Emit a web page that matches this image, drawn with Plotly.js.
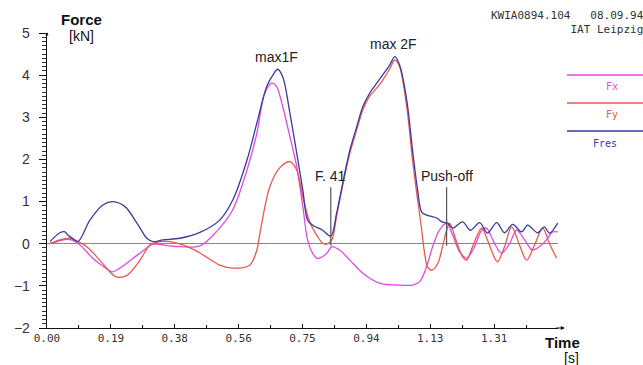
<!DOCTYPE html>
<html>
<head>
<meta charset="utf-8">
<script src="https://cdn.plot.ly/plotly-3.0.1.min.js"></script>
<style>html,body{margin:0;padding:0;background:#fff;}#chart{width:643px;height:365px;}</style>
</head>
<body>
<div id="chart"></div>
<script>
// ---- data (time in s, force in kN) ----
const timeFres = [0.009,0.038,0.053,0.062,0.076,0.091,0.126,0.164,0.194,0.229,0.264,0.293,0.311,0.340,0.390,0.449,0.507,0.545,0.587,0.616,0.645,0.663,0.677,0.692,0.713,0.733,0.751,0.765,0.780,0.809,0.833,0.850,0.868,0.889,0.909,0.927,0.947,0.968,0.985,1.006,1.021,1.035,1.056,1.073,1.088,1.100,1.114,1.144,1.161,1.176,1.191,1.220,1.243,1.270,1.293,1.320,1.343,1.367,1.393,1.411,1.440,1.460,1.475,1.499];
const fres     = [0.05,0.26,0.28,0.20,0.12,0.05,0.56,0.92,1.00,0.88,0.49,0.13,0.05,0.09,0.13,0.27,0.56,1.03,1.98,2.86,3.73,4.00,4.14,3.96,3.10,2.15,1.27,0.56,0.44,0.32,0.18,0.72,1.44,2.22,2.77,3.25,3.57,3.81,4.00,4.24,4.44,4.24,3.41,2.22,1.27,0.75,0.68,0.61,0.51,0.49,0.37,0.52,0.32,0.50,0.25,0.50,0.26,0.46,0.28,0.44,0.26,0.40,0.25,0.49];

const timeFx = [0.009,0.053,0.076,0.097,0.135,0.176,0.191,0.214,0.252,0.293,0.311,0.370,0.449,0.499,0.545,0.587,0.616,0.639,0.660,0.674,0.692,0.713,0.733,0.751,0.765,0.780,0.795,0.821,0.836,0.859,0.889,0.927,0.977,1.026,1.073,1.094,1.114,1.132,1.152,1.173,1.191,1.211,1.232,1.255,1.276,1.290,1.314,1.334,1.358,1.378,1.402,1.425,1.452,1.466,1.484,1.499];
const fx     = [0.00,0.10,0.08,-0.03,-0.35,-0.60,-0.67,-0.58,-0.35,-0.10,-0.01,-0.06,-0.05,0.30,0.80,1.75,2.62,3.57,3.81,3.73,3.25,2.54,1.83,0.88,0.09,-0.23,-0.35,-0.23,-0.07,-0.15,-0.39,-0.70,-0.94,-0.98,-0.98,-0.90,-0.55,-0.07,0.32,0.49,0.20,-0.19,-0.34,-0.07,0.32,0.37,0.00,-0.22,0.00,0.32,0.09,-0.15,-0.03,0.09,0.28,0.28];

const timeFy = [0.009,0.038,0.067,0.091,0.117,0.155,0.185,0.205,0.235,0.273,0.302,0.331,0.361,0.399,0.449,0.507,0.545,0.595,0.616,0.625,0.654,0.683,0.713,0.733,0.751,0.771,0.792,0.809,0.821,0.836,0.850,0.868,0.889,0.909,0.927,0.947,0.977,1.006,1.021,1.035,1.056,1.073,1.088,1.098,1.108,1.117,1.129,1.147,1.161,1.173,1.182,1.202,1.220,1.232,1.249,1.276,1.293,1.314,1.323,1.343,1.364,1.387,1.408,1.431,1.455,1.475,1.496];
const fy     = [0.00,0.09,0.13,0.05,-0.07,-0.39,-0.67,-0.79,-0.75,-0.39,-0.03,0.05,0.05,-0.03,-0.22,-0.51,-0.58,-0.51,-0.15,0.25,1.35,1.80,1.95,1.75,1.11,0.52,0.20,0.01,-0.01,0.09,0.65,1.38,2.15,2.70,3.17,3.50,3.78,4.15,4.36,4.20,3.25,1.98,1.03,0.45,-0.20,-0.55,-0.63,-0.47,-0.07,0.32,0.49,0.05,-0.31,-0.39,-0.07,0.37,0.09,-0.34,-0.43,-0.07,0.40,-0.03,-0.39,-0.03,0.37,0.00,-0.34];

const seriesNames = ['Fx','Fy','Fres'];
const seriesColors = ['#e04ce0','#e8584c','#3a3a9e'];

const tickVals = [0,0.1875,0.375,0.5625,0.75,0.9375,1.125,1.3125];
const tickText = ['0.00','0.19','0.38','0.56','0.75','0.94','1.13','1.31'];

// event markers
const markerNames = ['F. 41','Push-off'];
const markerTimes = [0.833,1.173];
const peakNames = ['max1F','max 2F'];
const peakTimes = [0.674,1.021];
const peakForces = [4.14,4.44];

// ---- traces ----
const traces = [
  {x: timeFx, y: fx, name: seriesNames[0]},
  {x: timeFy, y: fy, name: seriesNames[1]},
  {x: timeFres, y: fres, name: seriesNames[2]}
].map((t,i)=>Object.assign(t,{type:'scatter',mode:'lines',
  line:{color:seriesColors[i],width:1.3,shape:'spline',smoothing:0.9},hoverinfo:'skip'}));

// event marker vertical lines
markerTimes.forEach(t=>{
  traces.push({type:'scatter',mode:'lines',x:[t,t],y:[1.34,-0.05],
    line:{color:'#555',width:1.2},hoverinfo:'skip',showlegend:false});
});

const sansFont = 'Liberation Sans, Arial, sans-serif';
const monoFont = 'DejaVu Sans Mono, monospace';

const annotations = [];
markerNames.forEach((n,i)=>annotations.push({x:markerTimes[i],y:1.6,xref:'x',yref:'y',text:n,showarrow:false,
  font:{family:sansFont,size:14,color:'#222'},xanchor:'center',yanchor:'middle'}));
peakNames.forEach((n,i)=>annotations.push({x:peakTimes[i]+(i===0?0:-0.005),y:peakForces[i]+(i===0?0.3:0.3),xref:'x',yref:'y',text:n,showarrow:false,
  font:{family:sansFont,size:14,color:'#222'},xanchor:'center',yanchor:'middle'}));

// axis titles
annotations.push({xref:'paper',yref:'paper',x:0.068,y:1.045,text:'<b>Force</b>',showarrow:false,font:{family:sansFont,size:15,color:'#111'},xanchor:'center',yanchor:'middle'});
annotations.push({xref:'paper',yref:'paper',x:0.068,y:0.99,text:'[kN]',showarrow:false,font:{family:sansFont,size:14,color:'#111'},xanchor:'center',yanchor:'middle'});
annotations.push({xref:'paper',yref:'paper',x:1.008,y:-0.05,text:'<b>Time</b>',showarrow:false,font:{family:sansFont,size:15,color:'#111'},xanchor:'center',yanchor:'middle'});
annotations.push({xref:'paper',yref:'paper',x:1.027,y:-0.10,text:'[s]',showarrow:false,font:{family:sansFont,size:14,color:'#111'},xanchor:'center',yanchor:'middle'});

// header (two lines, right aligned)
annotations.push({xref:'paper',yref:'paper',x:1.172,y:1.035,text:'KWIA0894.104   08.09.94<br>IAT Leipzig',showarrow:false,align:'right',
  font:{family:monoFont,size:11,color:'#333'},xanchor:'right',yanchor:'middle'});

// custom legend
const legLineY = [0.8576,0.7627,0.6678];
const legTextY = [0.8203,0.7254,0.6271];
const legTextX = [1.1057,1.1057,1.092];
const shapes = [];
seriesNames.forEach((n,i)=>{
  shapes.push({type:'line',xref:'paper',yref:'paper',x0:1.0176,x1:1.17,y0:legLineY[i],y1:legLineY[i],line:{color:seriesColors[i],width:1.3}});
  annotations.push({xref:'paper',yref:'paper',x:legTextX[i],y:legTextY[i],text:n,showarrow:false,font:{family:monoFont,size:10,color:seriesColors[i]},xanchor:'center',yanchor:'middle'});
});

// axis arrows
annotations.push({xref:'x',yref:'y',axref:'x',ayref:'y',x:1.52,y:-2,ax:1.49,ay:-2,showarrow:true,arrowhead:2,arrowsize:0.8,arrowwidth:1,arrowcolor:'#111',text:''});
annotations.push({xref:'x',yref:'y',axref:'x',ayref:'y',x:0,y:5.02,ax:0,ay:4.9,showarrow:true,arrowhead:2,arrowsize:0.6,arrowwidth:1,arrowcolor:'#111',text:''});

const layout = {
  width:643,height:365,
  margin:{l:47,r:85,t:33,b:37},
  paper_bgcolor:'#fff',plot_bgcolor:'#fff',
  showlegend:false,
  xaxis:{range:[0,1.5],showgrid:false,zeroline:false,showline:true,linecolor:'#111',linewidth:1,
    tickmode:'array',tickvals:tickVals,ticktext:tickText,ticks:'inside',ticklen:4,tickcolor:'#111',
    minor:{tickmode:'linear',tick0:0,dtick:0.09375,ticks:'inside',ticklen:3,tickcolor:'#111'},
    tickfont:{family:monoFont,size:11,color:'#333'},fixedrange:true},
  yaxis:{range:[-2,5],showgrid:false,zeroline:true,zerolinecolor:'#888',zerolinewidth:1,
    showline:true,linecolor:'#111',linewidth:1.3,dtick:1,ticks:'outside',ticklen:7,tickcolor:'#111',
    ticklabelstandoff:6,
    minor:{dtick:0.1,ticks:'outside',ticklen:4,tickcolor:'#333'},
    tickfont:{family:sansFont,size:14,color:'#333'},fixedrange:true},
  annotations:annotations,
  shapes:shapes
};

Plotly.newPlot('chart',traces,layout,{staticPlot:true,displayModeBar:false});
</script>
</body>
</html>
